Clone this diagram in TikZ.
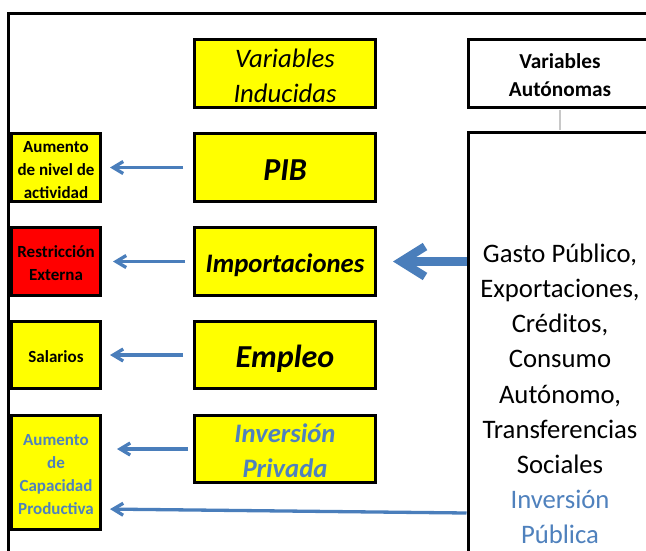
\documentclass[tikz,border=0pt]{standalone}
\usepackage{fontspec}
\setmainfont{Carlito}
\usetikzlibrary{arrows.meta}
\definecolor{yel}{HTML}{FFFF00}
\definecolor{redb}{HTML}{FF0000}
\definecolor{bluet}{HTML}{4F81BD}
\definecolor{bluea}{HTML}{4A7EBB}
\definecolor{grayl}{HTML}{C8C8C8}
\begin{document}
\begin{tikzpicture}[x=1pt,y=-1pt,
  box/.style={draw=black, line width=3pt, inner sep=0pt},
  lbox/.style={box, fill=yel, minimum width=89pt},
  mbox/.style={box, fill=yel, minimum width=181pt, minimum height=68pt},
  tx/.style={inner sep=0pt, align=center},
  ltx/.style={tx, font=\bfseries\fontsize{17}{23}\selectfont},
  mtx/.style={tx, font=\bfseries\itshape\fontsize{26.7}{35}\selectfont},
  btx/.style={tx, font=\bfseries\itshape\fontsize{32}{38}\selectfont},
  arr/.style={draw=bluea, line width=3.3pt, -{Straight Barb[length=10pt,width=12pt]}},
  bigarr/.style={draw=bluea, line width=8.5pt, -{Straight Barb[length=24pt,width=30pt]}},
]
\useasboundingbox (0,0) rectangle (646,550);
\clip (0,0) rectangle (646,550);
\draw[line width=3pt] (8.7,600) -- (8.7,13.5) -- (700,13.5);

% top boxes
\node[box, fill=yel, minimum width=181pt, minimum height=67.7pt] (vi) at (285,73.4) {};
\node[tx, font=\itshape\fontsize{26.7}{35}\selectfont] (vit) at ([yshift=-2pt]vi.center) {Variables\\Inducidas};
\node[box, fill=white, minimum width=184pt, minimum height=67.7pt] (va) at (560,73.4) {};
\node[tx, font=\bfseries\fontsize{21.3}{28}\selectfont] (vat) at ([yshift=-1.5pt]va.center) {Variables\\Autónomas};

% autonomous box
\node[box, fill=white, minimum width=184pt, minimum height=530pt] (auto) at (560,397.5) {};
\node[tx, font=\fontsize{26.7}{35.2}\selectfont] (autot) at ([yshift=3.5pt]auto.center) {Gasto Público,\\Exportaciones,\\Créditos,\\Consumo\\Autónomo,\\Transferencias\\Sociales\\\textcolor{bluet}{Inversión}\\\textcolor{bluet}{Pública}};
\draw[grayl, line width=1.5pt, shorten <=1.5pt, shorten >=1.5pt] (va.south) -- (auto.north);

% left boxes
\node[lbox, minimum height=68pt] (a1) at (56,167.5) {};
\node[ltx] (a1t) at ([yshift=-3pt]a1.center) {Aumento\\de nivel de\\actividad};
\node[lbox, fill=redb, minimum height=68pt] (a2) at (56,261.5) {};
\node[ltx] (a2t) at ([yshift=-2pt]a2.center) {Restricción\\Externa};
\node[lbox, minimum height=67pt] (a3) at (56,355) {};
\node[ltx] (a3t) at ([yshift=-2pt]a3.center) {Salarios};
\node[lbox, minimum height=114pt] (a4) at (56,472.5) {};
\node[ltx, text=bluet] (a4t) at ([yshift=-2pt]a4.center) {Aumento\\de\\Capacidad\\Productiva};

% middle boxes
\node[mbox] (pib) at (285,167.5) {};
\node[btx] (pibt) at ([yshift=-3pt]pib.center) {PIB};
\node[mbox] (imp) at (285,261.5) {};
\node[mtx] (impt) at ([yshift=-3.5pt]imp.center) {Importaciones};
\node[mbox, minimum height=67pt] (emp) at (285,355) {};
\node[btx] (empt) at ([yshift=-3.5pt]emp.center) {Empleo};
\node[mbox, minimum height=67pt] (inv) at (285,449) {};
\node[mtx, text=bluet] (invt) at ([yshift=-1.5pt]inv.center) {Inversión\\Privada};

% arrows
\draw[arr, shorten <=10pt, shorten >=8pt] (pib.west) -- (a1.east);
\draw[arr, shorten <=8pt, shorten >=11pt] (imp.west) -- (a2.east);
\draw[arr, shorten <=10pt, shorten >=8pt] (emp.west) -- (a3.east);
\draw[arr, shorten <=5pt, shorten >=15pt] (inv.west) -- (a4.east |- inv.west);
\draw[arr, shorten >=8pt] (auto.west |- 0,513) -- (a4.east |- 0,509);
\draw[bigarr, shorten >=16pt] (auto.west |- imp.east) -- (imp.east);
\end{tikzpicture}
\end{document}
